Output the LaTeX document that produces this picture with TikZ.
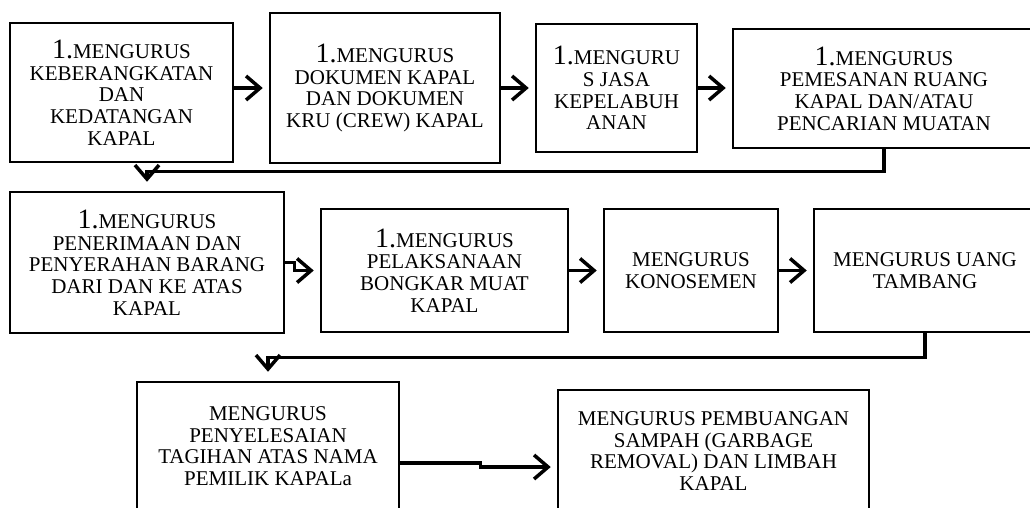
\documentclass[tikz,border=0pt]{standalone}
\usepackage{fontspec}
\setmainfont{Liberation Serif}
\usetikzlibrary{arrows.meta,calc}

\newcommand{\stepno}{{\fontsize{28}{21.7}\selectfont 1.}}

\begin{document}
\begin{tikzpicture}[x=1pt,y=-1pt,
  >={Straight Barb[length=14pt,width=24pt]},
  procbox/.style={draw,line width=2.5pt,align=center,inner sep=0pt,
    font=\fontsize{21}{21.7}\selectfont},
  flow/.style={line width=3.5pt,->,shorten >=6pt}]

% Frame of the page (the right and lower boxes run past it)
\useasboundingbox (0,0) rectangle (1030,507);
\clip (0,0) rectangle (1030,507);

% First row
\node[procbox,minimum width=223pt,minimum height=139pt] (kedatangan) at (121.5,92.5)
  {\stepno MENGURUS\\KEBERANGKATAN\\DAN\\KEDATANGAN\\KAPAL};
\node[procbox,minimum width=230pt,minimum height=150pt] (dokumen) at (385,88)
  {\stepno MENGURUS\\DOKUMEN KAPAL\\DAN DOKUMEN\\KRU (CREW) KAPAL};
\node[procbox,minimum width=161pt,minimum height=128pt] (jasa) at (616.5,88)
  {\stepno MENGURU\\S JASA\\KEPELABUH\\ANAN};
\node[procbox,minimum width=302pt,minimum height=119pt] (pemesanan) at (884,88.5)
  {\stepno MENGURUS\\PEMESANAN RUANG\\KAPAL DAN/ATAU\\PENCARIAN MUATAN};

% Second row
\node[procbox,minimum width=274pt,minimum height=141pt] (penerimaan) at (147,262.5)
  {\stepno MENGURUS\\PENERIMAAN DAN\\PENYERAHAN BARANG\\DARI DAN KE ATAS\\KAPAL};
\node[procbox,minimum width=247pt,minimum height=123pt] (bongkar) at (444.5,270.5)
  {\stepno MENGURUS\\PELAKSANAAN\\BONGKAR MUAT\\KAPAL};
\node[procbox,minimum width=174pt,minimum height=123pt] (konosemen) at (691,270.5)
  {MENGURUS\\KONOSEMEN};
\node[procbox,minimum width=222pt,minimum height=123pt] (tambang) at (925,270.5)
  {MENGURUS UANG\\TAMBANG};

% Third row
\node[procbox,minimum width=262pt,minimum height=128pt] (tagihan) at (268,446)
  {MENGURUS\\PENYELESAIAN\\TAGIHAN ATAS NAMA\\PEMILIK KAPALa};
\node[procbox,minimum width=311pt,minimum height=122pt] (limbah) at (713.5,451)
  {MENGURUS PEMBUANGAN\\SAMPAH (GARBAGE\\REMOVAL) DAN LIMBAH\\KAPAL};

% Arrows along the rows
\draw[flow] (kedatangan.east |- dokumen.west) -- (dokumen.west);
\foreach \a/\b in {dokumen/jasa, jasa/pemesanan, bongkar/konosemen, konosemen/tambang}
  \draw[flow] (\a.east) -- (\a.east -| \b.west);
\draw[flow] (penerimaan.east) -- ++(9,0) |- (bongkar.west);
\draw[flow] ([yshift=-17pt]tagihan.east) -- ++(80,0) |- ([yshift=-16pt]limbah.west);

% Return lines down to the next row
\draw[flow,shorten >=9pt] (pemesanan.south) -- ++(0,22) -| (penerimaan.north);
\draw[flow,shorten >=9pt] (tambang.south) -- ++(0,24) -| (tagihan.north);

\end{tikzpicture}
\end{document}
